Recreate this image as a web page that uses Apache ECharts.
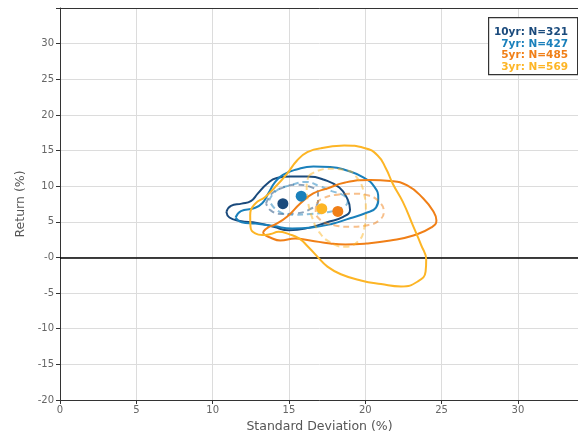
<!DOCTYPE html>
<html>
<head>
<meta charset="utf-8">
<script src="https://cdn.jsdelivr.net/npm/echarts@6/dist/echarts.min.js"></script>
<style>
  html, body { margin: 0; padding: 0; background: #fff; }
  #chart { width: 578px; height: 435px; }
</style>
</head>
<body>
<div id="chart"></div>
<script>
// Horizon groups, sample sizes and colours
const categories = ['10yr', '7yr', '5yr', '3yr'];
const counts = [321, 427, 485, 569];
const colors = ['#1a4a7c', '#1a80bb', '#f07f17', '#fdb525'];

// Mean (standard deviation, return) for each horizon
const means = [
  [14.6, 7.55],
  [15.8, 8.6],
  [18.2, 6.45],
  [17.15, 6.85]
];

// Outer density contour (solid) for each horizon, [std dev, return]
const outer10 = [[10.9,6.4],[11.2,7.25],[11.9,7.55],[12.5,7.9],[12.95,8.95],[13.55,10.3],[14.2,11.15],[15.1,11.35],[16.2,11.35],[17.3,10.9],[18.3,9.8],[18.85,8.1],[19.0,6.7],[18.55,5.7],[17.5,4.95],[16.3,4.15],[15.0,3.8],[14.0,4.3],[12.9,4.85],[11.8,5.1],[11.1,5.6],[10.9,6.4]];
const outer7 = [[11.5,5.6],[11.85,6.5],[12.7,6.9],[13.25,7.6],[13.65,9.0],[14.1,10.6],[14.6,11.6],[15.5,12.35],[16.6,12.75],[17.7,12.7],[18.8,12.2],[19.9,11.2],[20.6,9.9],[20.85,8.3],[20.7,7.0],[20.0,6.2],[19.0,5.5],[17.8,4.7],[16.5,4.2],[15.2,4.05],[14.0,4.4],[12.8,4.75],[11.9,4.95],[11.5,5.6]];
const outer5 = [[13.31,3.6],[13.64,4.21],[14.1,4.63],[14.89,5.75],[15.74,7.57],[16.59,8.98],[17.51,9.68],[18.69,10.52],[20.33,10.87],[21.64,10.73],[22.75,10.1],[23.8,8.27],[24.46,6.45],[24.66,5.19],[24.33,4.21],[23.15,3.09],[21.64,2.38],[20.07,1.96],[18.69,1.82],[17.7,1.96],[16.39,2.38],[15.41,2.66],[14.43,2.38],[13.77,2.8],[13.38,3.23],[13.31,3.6]];
const outer3 = [[17.08,15.33],[18.62,15.7],[19.93,15.37],[20.81,14.3],[21.36,12.44],[21.8,10.35],[22.46,7.79],[23.11,4.53],[23.66,1.74],[23.99,-0.35],[23.95,-1.98],[23.44,-3.37],[22.35,-4.07],[21.03,-3.74],[19.71,-3.23],[18.4,-2.35],[17.52,-1.28],[16.86,0.12],[16.25,1.51],[15.66,2.67],[15.0,3.28],[14.32,3.6],[13.79,3.28],[13.25,3.14],[12.79,3.37],[12.48,4.3],[12.46,5.93],[12.79,7.56],[13.44,8.49],[14.1,9.88],[14.87,11.74],[15.53,13.6],[16.2,14.77],[17.08,15.33]];

// Inner density contour (dashed) for each horizon
const inner10 = [[13.5,7.6],[13.9,9.0],[14.6,9.8],[15.5,10.2],[16.4,9.9],[16.9,9.0],[16.9,7.8],[16.4,6.8],[15.5,6.2],[14.5,6.1],[13.8,6.6],[13.5,7.6]];
const inner7 = [[13.7,8.0],[14.2,9.4],[15.2,10.2],[16.1,10.6],[17.0,10.0],[17.8,9.3],[18.5,8.8],[18.85,7.9],[18.5,7.0],[17.5,6.35],[16.4,6.1],[15.3,6.0],[14.3,6.5],[13.7,8.0]];
const inner5 = [[16.82,7.56],[17.08,8.16],[18.18,8.81],[19.28,8.95],[20.15,8.72],[20.92,7.79],[21.21,6.4],[20.92,5.23],[20.15,4.53],[19.06,4.3],[17.96,4.53],[17.08,5.23],[16.75,6.63],[16.82,7.56]];
const inner3 = [[16.32,11.51],[17.52,12.44],[18.84,12.21],[19.5,11.05],[19.89,9.19],[20.04,6.4],[19.93,4.07],[19.5,2.21],[18.62,1.51],[17.63,2.21],[16.97,3.6],[16.54,5.47],[16.25,7.79],[16.16,10.12],[16.32,11.51]];

const outerContours = [outer10, outer7, outer5, outer3];
const innerContours = [inner10, inner7, inner5, inner3];

// Axis ranges and tick spacing
const xRange = [0, 34];
const yRange = [-20, 35];
const tickStep = 5;

const chart = echarts.init(document.getElementById('chart'));
const font = 'DejaVu Sans';

const series = [];
categories.forEach((name, i) => {
  series.push({
    name: name + ' outer',
    type: 'line',
    data: outerContours[i],
    smooth: 0.5,
    showSymbol: false,
    symbol: 'none',
    silent: true,
    lineStyle: { color: colors[i], width: 2 },
    z: 2 + i
  });
  series.push({
    name: name + ' inner',
    type: 'line',
    data: innerContours[i],
    smooth: 0.5,
    showSymbol: false,
    symbol: 'none',
    silent: true,
    lineStyle: { color: colors[i], width: 2, type: [6, 4], opacity: 0.5 },
    z: 2 + i
  });
});
categories.forEach((name, i) => {
  series.push({
    name: name + ' mean',
    type: 'scatter',
    data: [means[i]],
    symbolSize: 11,
    itemStyle: { color: colors[i], opacity: 1 },
    silent: true,
    z: 10
  });
});
// zero-return reference line
series[0].markLine = {
  silent: true,
  symbol: 'none',
  label: { show: false },
  lineStyle: { color: '#000', width: 1.6, type: 'solid' },
  data: [{ yAxis: 0 }]
};

const legendLines = categories.map((c, i) => ({
  type: 'text',
  right: 10,
  top: 27 + i * 11.6,
  style: {
    text: c + ': N=' + counts[i],
    fill: colors[i],
    font: 'bold 10.5px "DejaVu Sans"',
    textAlign: 'right'
  },
  z: 101
}));

chart.setOption({
  animation: false,
  backgroundColor: '#fff',
  grid: { left: 60, top: 8, width: 519, height: 392, containLabel: false, outerBoundsMode: 'none' },
  xAxis: [{
    type: 'value',
    min: xRange[0], max: xRange[1], interval: tickStep,
    name: 'Standard Deviation (%)',
    nameLocation: 'middle',
    nameGap: 20,
    nameTextStyle: { color: '#555', fontFamily: font, fontSize: 12.5 },
    axisLine: { show: true, onZero: false, lineStyle: { color: '#333', width: 1 } },
    axisTick: { show: true, length: 4, lineStyle: { color: '#333' } },
    axisLabel: { color: '#666', fontFamily: font, fontSize: 10, margin: 5,
      formatter: v => (v > 30 ? '' : String(v)) },
    splitLine: { show: true, lineStyle: { color: '#dcdcdc', width: 1 } }
  }, {
    type: 'value',
    position: 'top',
    min: xRange[0], max: xRange[1],
    axisLine: { show: true, onZero: false, lineStyle: { color: '#333', width: 1 } },
    axisTick: { show: false },
    axisLabel: { show: false },
    splitLine: { show: false },
    z: 5
  }],
  yAxis: {
    type: 'value',
    min: yRange[0], max: yRange[1], interval: tickStep,
    name: 'Return (%)',
    nameLocation: 'middle',
    nameGap: 22,
    nameTextStyle: { color: '#555', fontFamily: font, fontSize: 12.5 },
    axisLine: { show: true, onZero: false, lineStyle: { color: '#333', width: 1 } },
    axisTick: { show: true, length: 4, lineStyle: { color: '#333' } },
    axisLabel: { color: '#666', fontFamily: font, fontSize: 10, margin: 6,
      formatter: v => (v >= 35 ? '' : (v === 0 ? '-0' : String(v))) },
    splitLine: { show: true, lineStyle: { color: '#dcdcdc', width: 1 } }
  },
  graphic: [{
    type: 'rect',
    left: 488, top: 17,
    shape: { width: 89, height: 57 },
    style: { fill: '#fff', stroke: '#333', lineWidth: 1.2 },
    z: 100
  }].concat(legendLines),
  series: series
});
</script>
</body>
</html>
